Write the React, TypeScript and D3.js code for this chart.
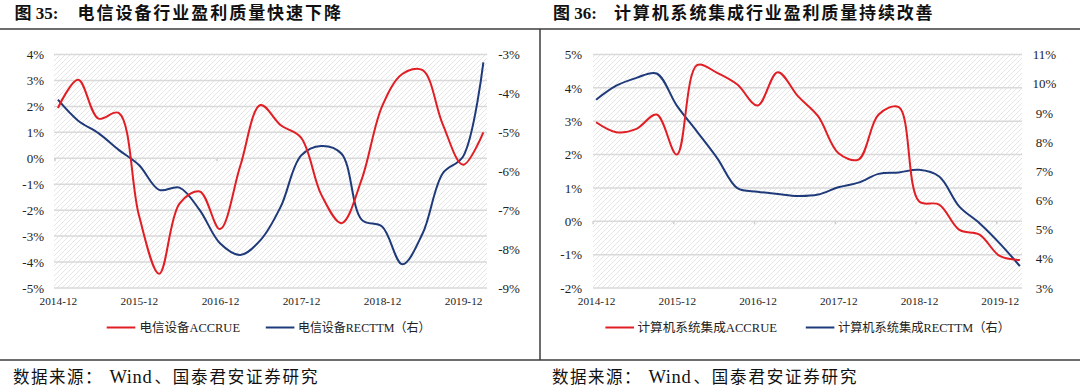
import React, { useEffect, useRef } from 'react';
import * as d3 from 'd3';

// quarterly points, 2014-12 .. 2020-03
const quarters = ['2014-12', '2015-03', '2015-06', '2015-09', '2015-12', '2016-03', '2016-06', '2016-09', '2016-12', '2017-03', '2017-06', '2017-09', '2017-12', '2018-03', '2018-06', '2018-09', '2018-12', '2019-03', '2019-06', '2019-09', '2019-12', '2020-03'];
const tickIdx = [0, 4, 8, 12, 16, 20];

// 图35 电信设备
const telecomAccrue = [1.94, 3.03, 1.53, 1.75, -2.2, -4.45, -1.75, -1.28, -2.73, -0.3, 2.05, 1.27, 0.8, -1.4, -2.5, -0.8, 2.0, 3.25, 3.4, 1.3, -0.25, 1.0];
const telecomRecttm = [-4.16, -4.7, -5.02, -5.45, -5.84, -6.48, -6.42, -7.0, -7.85, -8.15, -7.77, -6.91, -5.6, -5.35, -5.55, -7.25, -7.42, -8.39, -7.6, -6.05, -5.62, -3.2];

// 图36 计算机系统集成
const sysAccrue = [2.97, 2.67, 2.77, 3.2, 2.0, 4.68, 4.45, 4.1, 3.47, 4.47, 3.75, 3.15, 2.05, 1.85, 3.2, 3.42, 0.6, 0.5, -0.26, -0.4, -1.04, -1.16];
const sysRecttm = [9.45, 9.93, 10.2, 10.35, 9.25, 8.36, 7.45, 6.42, 6.3, 6.22, 6.15, 6.2, 6.45, 6.61, 6.91, 6.96, 7.05, 6.82, 5.79, 5.22, 4.53, 3.75];

const RED = '#e01e24';
const BLUE = '#1f3a7a';
const SERIF = '"Liberation Serif", "Noto Sans CJK SC", serif';

const panels = [
  {
    title: '电信设备行业盈利质量快速下降', no: '图 35:', noX: 14.5, titleX: 77.5, titleW: 263.5,
    left: 54, right: 487, x0: 57.9, x20: 463.1,
    leftDomain: [-5, 4], rightDomain: [-9, -3], leftLabelPad: 10, rightLabelPad: 22,
    accrue: telecomAccrue, recttm: telecomRecttm,
    names: ['电信设备ACCRUE', '电信设备RECTTM（右）'],
    legend: [[106.7, 135.3, 139.5, 100.5], [265.8, 294.4, 297.9, 132.5]],
    footX: 13,
  },
  {
    title: '计算机系统集成行业盈利质量持续改善', no: '图 36:', noX: 553, titleX: 614, titleW: 318.6,
    left: 593, right: 1022, x0: 596.1, x20: 999.7,
    leftDomain: [-2, 5], rightDomain: [3, 11], leftLabelPad: 11, rightLabelPad: 22.5,
    accrue: sysAccrue, recttm: sysRecttm,
    names: ['计算机系统集成ACCRUE', '计算机系统集成RECTTM（右）'],
    legend: [[605.4, 634, 637.5, 139.5], [805.8, 834.4, 837.9, 172]],
    footX: 552,
  },
];

const TOP = 288;
const BOT_Y = 54.5;

export default function App() {
  const svgRef = useRef<SVGSVGElement | null>(null);

  useEffect(() => {
    const svg = d3.select(svgRef.current);
    svg.selectAll('*').remove();

    // hatch background
    const pat = svg.append('defs').append('pattern')
      .attr('id', 'hatch').attr('patternUnits', 'userSpaceOnUse')
      .attr('width', 5).attr('height', 5);
    pat.append('rect').attr('width', 5).attr('height', 5).attr('fill', '#fff');
    pat.append('path').attr('d', 'M-1,1 l2,-2 M0,5 l5,-5 M4,6 l2,-2')
      .attr('stroke', '#e6e6e6').attr('stroke-width', 1);

    // frame
    svg.append('line').attr('x1', 0).attr('x2', 1080).attr('y1', 29).attr('y2', 29).attr('stroke', '#3d3d3d').attr('stroke-width', 1.5);
    svg.append('line').attr('x1', 0).attr('x2', 1080).attr('y1', 360).attr('y2', 360).attr('stroke', '#3d3d3d').attr('stroke-width', 1.5);
    svg.append('line').attr('x1', 540).attr('x2', 540).attr('y1', 29).attr('y2', 360).attr('stroke', '#3d3d3d').attr('stroke-width', 1.5);

    panels.forEach(p => {
      const g = svg.append('g');
      const x = d3.scaleLinear().domain([0, 20]).range([p.x0, p.x20]);
      const yL = d3.scaleLinear().domain(p.leftDomain).range([TOP, BOT_Y]);
      const yR = d3.scaleLinear().domain(p.rightDomain).range([TOP, BOT_Y]);

      g.append('rect').attr('x', p.left).attr('y', 53.5)
        .attr('width', p.right - p.left).attr('height', TOP - 53)
        .attr('fill', 'url(#hatch)');

      const leftTicks = d3.range(p.leftDomain[0], p.leftDomain[1] + 1);
      const rightTicks = d3.range(p.rightDomain[0], p.rightDomain[1] + 1);

      // gridlines
      g.append('g').selectAll('line').data(leftTicks).join('line')
        .attr('x1', p.left).attr('x2', p.right)
        .attr('y1', d => yL(d)).attr('y2', d => yL(d))
        .attr('stroke', '#d9d9d9').attr('stroke-width', 1.5);

      // category axis ticks on 0 line
      g.append('g').attr('transform', `translate(-3.5,${yL(0)})`)
        .call(d3.axisBottom(x).tickValues(tickIdx).tickSize(3).tickFormat(() => ''))
        .call(a => a.select('.domain').remove())
        .selectAll('line').attr('stroke', '#cfcfcf').attr('stroke-width', 1.5);

      // x labels
      g.append('g').attr('transform', `translate(0,${TOP})`)
        .call(d3.axisBottom(x).tickValues(tickIdx).tickSize(0).tickPadding(9).tickFormat(i => quarters[i as number]))
        .call(a => a.select('.domain').remove())
        .selectAll('text').attr('font-family', SERIF).attr('font-size', 11.3).attr('fill', '#222');

      // left axis
      g.append('g').attr('transform', `translate(${p.left},0)`)
        .call(d3.axisLeft(yL).tickValues(leftTicks).tickSize(0).tickPadding(p.leftLabelPad).tickFormat(d => `${d}%`))
        .call(a => a.select('.domain').remove())
        .selectAll('text').attr('font-family', SERIF).attr('font-size', 13).attr('fill', '#222');

      // right axis
      g.append('g').attr('transform', `translate(${p.right},0)`)
        .call(d3.axisRight(yR).tickValues(rightTicks).tickSize(0).tickPadding(p.rightLabelPad).tickFormat(d => `${d}%`))
        .call(a => a.select('.domain').remove())
        .selectAll('text').attr('font-family', SERIF).attr('font-size', 13).attr('fill', '#222').attr('text-anchor', 'middle');

      const lineL = d3.line<number>().x((d, i) => x(i)).y(d => yL(d)).curve(d3.curveCatmullRom.alpha(0.5));
      const lineR = d3.line<number>().x((d, i) => x(i)).y(d => yR(d)).curve(d3.curveCatmullRom.alpha(0.5));

      g.append('path').datum(p.recttm).attr('d', lineR)
        .attr('fill', 'none').attr('stroke', BLUE).attr('stroke-width', 2);
      g.append('path').datum(p.accrue).attr('d', lineL)
        .attr('fill', 'none').attr('stroke', RED).attr('stroke-width', 2);

      // legend
      [RED, BLUE].forEach((c, k) => {
        const [lx1, lx2, tx, tw] = p.legend[k];
        g.append('line').attr('x1', lx1).attr('x2', lx2).attr('y1', 327.5).attr('y2', 327.5)
          .attr('stroke', c).attr('stroke-width', 2);
        g.append('text').attr('x', tx).attr('y', 332)
          .attr('font-family', SERIF).attr('font-size', 12.5).attr('fill', '#222')
          .attr('textLength', tw).attr('lengthAdjust', 'spacingAndGlyphs')
          .text(p.names[k]);
      });

      // title
      g.append('text').attr('x', p.noX).attr('y', 19)
        .attr('font-family', SERIF).attr('font-size', 17).attr('font-weight', 'bold').attr('fill', '#111')
        .text(p.no);
      g.append('text').attr('x', p.titleX).attr('y', 19)
        .attr('font-family', SERIF).attr('font-size', 17).attr('font-weight', 'bold').attr('fill', '#111')
        .attr('textLength', p.titleW).attr('lengthAdjust', 'spacing')
        .text(p.title);

      // source
      const foot = g.append('text').attr('y', 382.5)
        .attr('font-family', SERIF).attr('font-size', 16.5).attr('fill', '#111');
      foot.append('tspan').attr('x', p.footX).attr('letter-spacing', 1.5).text('数据来源：');
      foot.append('tspan').attr('x', p.footX + 96.5).attr('font-size', 18.5).attr('letter-spacing', 0.6).text('Wind');
      foot.append('tspan').attr('x', p.footX + 141.5).attr('letter-spacing', 1.8).text('、国泰君安证券研究');
    });
  }, []);

  return (
    <svg ref={svgRef} width={1080} height={388}
      style={{ position: 'absolute', left: 0, top: 0, background: '#fff' }} />
  );
}
